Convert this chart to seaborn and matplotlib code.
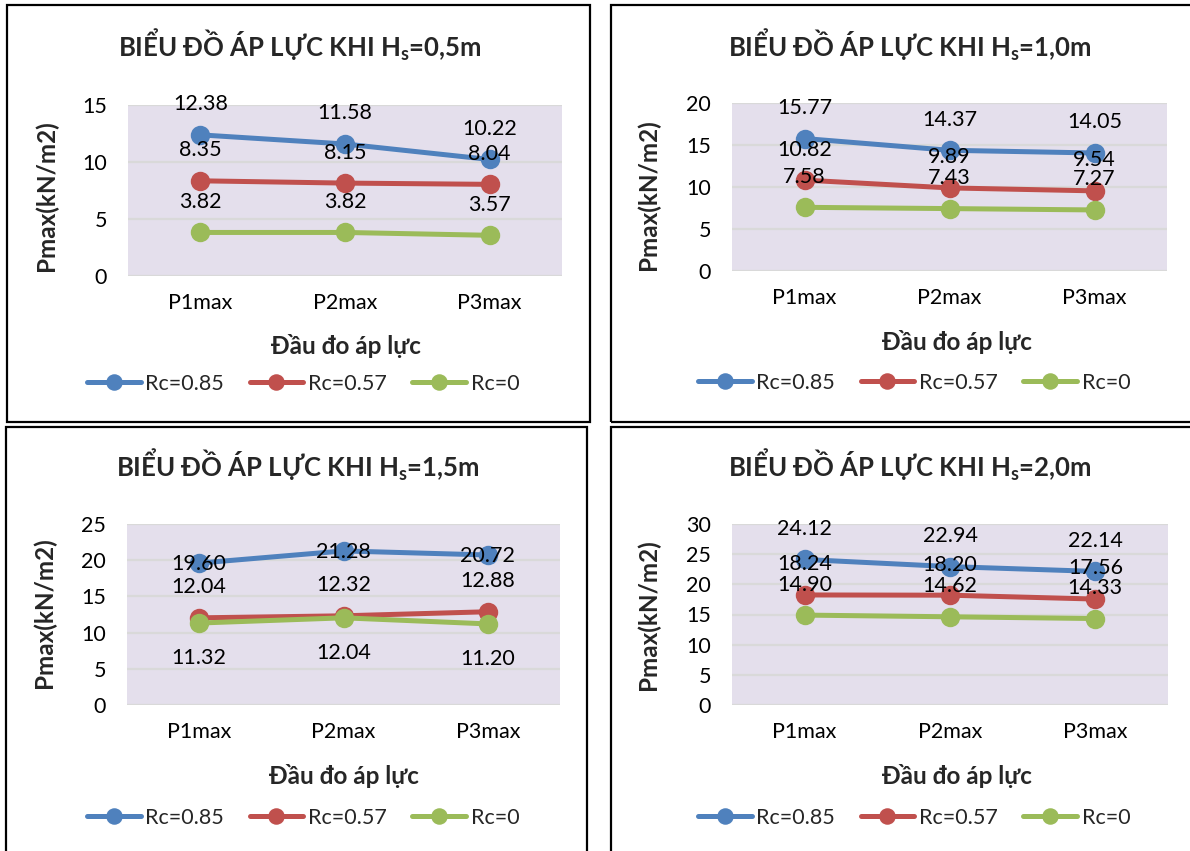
import matplotlib
matplotlib.use("Agg")
import matplotlib.pyplot as plt
import seaborn as sns
import pandas as pd
from matplotlib.patches import Rectangle

# ---- data ---------------------------------------------------------------
categories = ["P1max", "P2max", "P3max"]
series_names = ["Rc=0.85", "Rc=0.57", "Rc=0"]
wave_heights = ["0,5", "1,0", "1,5", "2,0"]

hs05_rc085 = [12.38, 11.58, 10.22]
hs05_rc057 = [8.35, 8.15, 8.04]
hs05_rc0 = [3.82, 3.82, 3.57]

hs10_rc085 = [15.77, 14.37, 14.05]
hs10_rc057 = [10.82, 9.89, 9.54]
hs10_rc0 = [7.58, 7.43, 7.27]

hs15_rc085 = [19.60, 21.28, 20.72]
hs15_rc057 = [12.04, 12.32, 12.88]
hs15_rc0 = [11.32, 12.04, 11.20]

hs20_rc085 = [24.12, 22.94, 22.14]
hs20_rc057 = [18.24, 18.20, 17.56]
hs20_rc0 = [14.90, 14.62, 14.33]

y_limits = [15, 20, 25, 30]

panel_values = [
    [hs05_rc085, hs05_rc057, hs05_rc0],
    [hs10_rc085, hs10_rc057, hs10_rc0],
    [hs15_rc085, hs15_rc057, hs15_rc0],
    [hs20_rc085, hs20_rc057, hs20_rc0],
]

# ---- style --------------------------------------------------------------
sns.set_theme(style="white")
plt.rcParams["font.family"] = ["Lato", "Open Sans", "DejaVu Sans"]
plt.rcParams["mathtext.default"] = "regular"

palette = {"Rc=0.85": "#4F81BD", "Rc=0.57": "#C0504D", "Rc=0": "#9BBB59"}
plot_bg = "#E4DFEC"
grid_col = "#D9D9D9"

W, H = 1190, 851
fig = plt.figure(figsize=(W / 100, H / 100), dpi=100)
fig.patch.set_facecolor("white")


def fx(x):
    return x / W


def fy(y):
    return 1 - y / H


# pixel layout of each chart block
layouts = [
    dict(plot=(128, 105, 562, 276), title=(300, 45), ylab=(46, 196),
         xlab=(346, 346), leg=(303, 384), border=(7, 5, 590, 422)),
    dict(plot=(732, 103, 1167, 271), title=(910, 45), ylab=(648, 195),
         xlab=(957, 342), leg=(914, 383), border=(611, 5, 1196, 422)),
    dict(plot=(127, 524, 560, 705), title=(298, 465), ylab=(44, 613),
         xlab=(344, 776), leg=(303, 818), border=(6, 427, 587, 858)),
    dict(plot=(732, 524, 1168, 705), title=(910, 465), ylab=(648, 615),
         xlab=(957, 776), leg=(914, 818), border=(611, 427, 1196, 858)),
]

# vertical placement of the value labels for each series (points)
label_offsets = [
    [22, 22, 22],
    [22, 22, 22],
    [-1, 22, -25],
    [22, 22, 22],
]

for i, lay in enumerate(layouts):
    x0, y0, x1, y1 = lay["plot"]
    ax = fig.add_axes([fx(x0), fy(y1), fx(x1 - x0), (y1 - y0) / H])
    ax.set_facecolor(plot_bg)

    rows = []
    for name, vals in zip(series_names, panel_values[i]):
        for c, v in zip(categories, vals):
            rows.append({"Đầu đo": c, "Pmax": v, "Chuỗi": name})
    df = pd.DataFrame(rows)

    sns.lineplot(data=df, x="Đầu đo", y="Pmax", hue="Chuỗi",
                 hue_order=series_names, palette=palette, sort=False,
                 marker="o", markersize=14, markeredgewidth=0,
                 linewidth=3.6, legend=False, ax=ax, zorder=3)

    for j, (name, vals) in enumerate(zip(series_names, panel_values[i])):
        for c, v in zip(categories, vals):
            ax.annotate(f"{v:.2f}", xy=(c, v), xytext=(0, label_offsets[i][j]),
                        textcoords="offset points", ha="center", va="center",
                        fontsize=15.5, color="black", zorder=5)

    ax.set_xlim(-0.5, 2.5)
    ax.set_ylim(0, y_limits[i])
    ax.set_yticks(range(0, y_limits[i] + 1, 5))
    ax.yaxis.grid(True, color=grid_col, linewidth=1.6)
    ax.xaxis.grid(False)
    ax.set_axisbelow(True)
    for s in ax.spines.values():
        s.set_visible(False)
    ax.tick_params(axis="both", length=0, labelsize=15.5, colors="black")
    ax.tick_params(axis="y", pad=15)
    ax.tick_params(axis="x", pad=12)
    ax.set_xlabel("")
    ax.set_ylabel("")

    handles = ax.get_lines()[:3]
    ax.legend(handles, series_names, loc="center",
              bbox_to_anchor=(fx(lay["leg"][0]), fy(lay["leg"][1])),
              bbox_transform=fig.transFigure, ncol=3, frameon=False,
              fontsize=15.5, handlelength=2.5, handletextpad=0.2,
              columnspacing=1.2, numpoints=1, markerscale=0.85)

    fig.text(fx(lay["title"][0]), fy(lay["title"][1]),
             "BIỂU ĐỒ ÁP LỰC KHI H$_{s}$=" + wave_heights[i] + "m",
             ha="center", va="center", fontsize=18.5, fontweight="bold")
    fig.text(fx(lay["ylab"][0]), fy(lay["ylab"][1]), "Pmax(kN/m2)",
             ha="center", va="center", rotation=90, fontsize=17.5,
             fontweight="bold")
    fig.text(fx(lay["xlab"][0]), fy(lay["xlab"][1]), "Đầu đo áp lực",
             ha="center", va="center", fontsize=17.5, fontweight="bold")

    bx0, by0, bx1, by1 = lay["border"]
    fig.patches.append(Rectangle((fx(bx0), fy(by1)), fx(bx1 - bx0),
                                 (by1 - by0) / H, transform=fig.transFigure,
                                 fill=False, edgecolor="black", linewidth=1.6,
                                 zorder=10))

fig.savefig("out.png", dpi=100, facecolor="white")
